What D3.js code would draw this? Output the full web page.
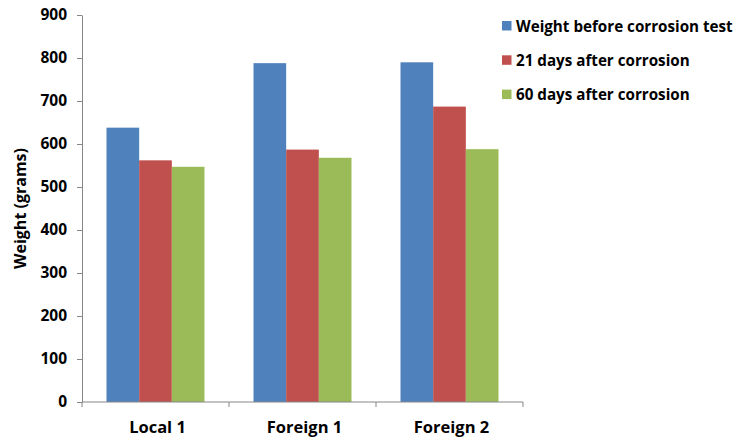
<!DOCTYPE html>
<html>
<head>
<meta charset="utf-8">
<script src="https://cdn.jsdelivr.net/npm/d3@7"></script>
<style>
  html, body { margin: 0; padding: 0; background: #fff; }
  svg { display: block; font-family: "Open Sans", sans-serif; font-weight: bold; }
</style>
</head>
<body>
<svg id="chart" width="738" height="438"></svg>
<script>
// Sample groups and the three weighing stages
const categories = ["Local 1", "Foreign 1", "Foreign 2"];
const seriesNames = ["Weight before corrosion test", "21 days after corrosion", "60 days after corrosion"];
const beforeTest = [638, 788, 790];
const after21Days = [562, 587, 687];
const after60Days = [547, 568, 588];
const yTicks = [0, 100, 200, 300, 400, 500, 600, 700, 800, 900];
const colors = ["#4F81BD", "#C0504D", "#9BBB59"];

const seriesValues = [beforeTest, after21Days, after60Days];
const rows = categories.map((c, i) => ({
  category: c,
  values: seriesNames.map((s, j) => ({ series: s, value: seriesValues[j][i], color: colors[j] }))
}));

const svg = d3.select("#chart");
const plot = { left: 82, right: 523, top: 15, bottom: 402 };

const x0 = d3.scaleBand().domain(categories).range([plot.left, plot.right]).padding(0);
const x1 = d3.scaleBand().domain(seriesNames).range([0, x0.bandwidth()])
  .paddingInner(0).paddingOuter(0.75);
const y = d3.scaleLinear().domain([0, 900]).range([plot.bottom, plot.top]);

// Bars
const groups = svg.append("g").selectAll("g").data(rows).join("g")
  .attr("transform", d => `translate(${x0(d.category)},0)`);
groups.selectAll("rect").data(d => d.values).join("rect")
  .attr("x", d => x1(d.series))
  .attr("y", d => y(d.value))
  .attr("width", x1.bandwidth())
  .attr("height", d => y(0) - y(d.value))
  .attr("fill", d => d.color);

// Y axis
const yAxis = d3.axisLeft(y).tickValues(yTicks).tickSize(5).tickPadding(10).tickSizeOuter(0);
const gy = svg.append("g").attr("transform", `translate(${plot.left},0)`).call(yAxis);
gy.select(".domain").attr("stroke", "#868686");
gy.selectAll(".tick line").attr("stroke", "#868686");
gy.selectAll(".tick text").attr("font-size", 15.5).attr("font-weight", "bold")
  .attr("font-family", "Open Sans, sans-serif").attr("fill", "#000");

// X axis with ticks at category boundaries
const gx = svg.append("g").attr("transform", `translate(0,${plot.bottom})`);
gx.append("line").attr("x1", plot.left).attr("x2", plot.right)
  .attr("stroke", "#868686");
const boundaries = categories.map(c => x0(c)).concat([x0(categories[categories.length - 1]) + x0.bandwidth()]);
gx.selectAll("line.b").data(boundaries).join("line").attr("class", "b")
  .attr("x1", d => d).attr("x2", d => d).attr("y1", 0).attr("y2", 5)
  .attr("stroke", "#868686");
gx.selectAll("text").data(categories).join("text")
  .attr("x", d => x0(d) + x0.bandwidth() / 2 + 2)
  .attr("y", 31)
  .attr("text-anchor", "middle")
  .attr("font-size", 16.5)
  .text(d => d);

// Y axis title
svg.append("text")
  .attr("transform", `translate(26,${(plot.top + plot.bottom) / 2}) rotate(-90)`)
  .attr("text-anchor", "middle")
  .attr("font-size", 16)
  .text("Weight (grams)");

// Legend
const legend = svg.append("g").attr("transform", "translate(502,21)");
const items = legend.selectAll("g").data(seriesNames).join("g")
  .attr("transform", (d, i) => `translate(0,${i * 34.3})`);
items.append("rect").attr("width", 9.5).attr("height", 9.5)
  .attr("fill", (d, i) => colors[i]);
items.append("text").attr("x", 14).attr("y", 10.5)
  .attr("font-size", 15.2)
  .text(d => d);
</script>
</body>
</html>
